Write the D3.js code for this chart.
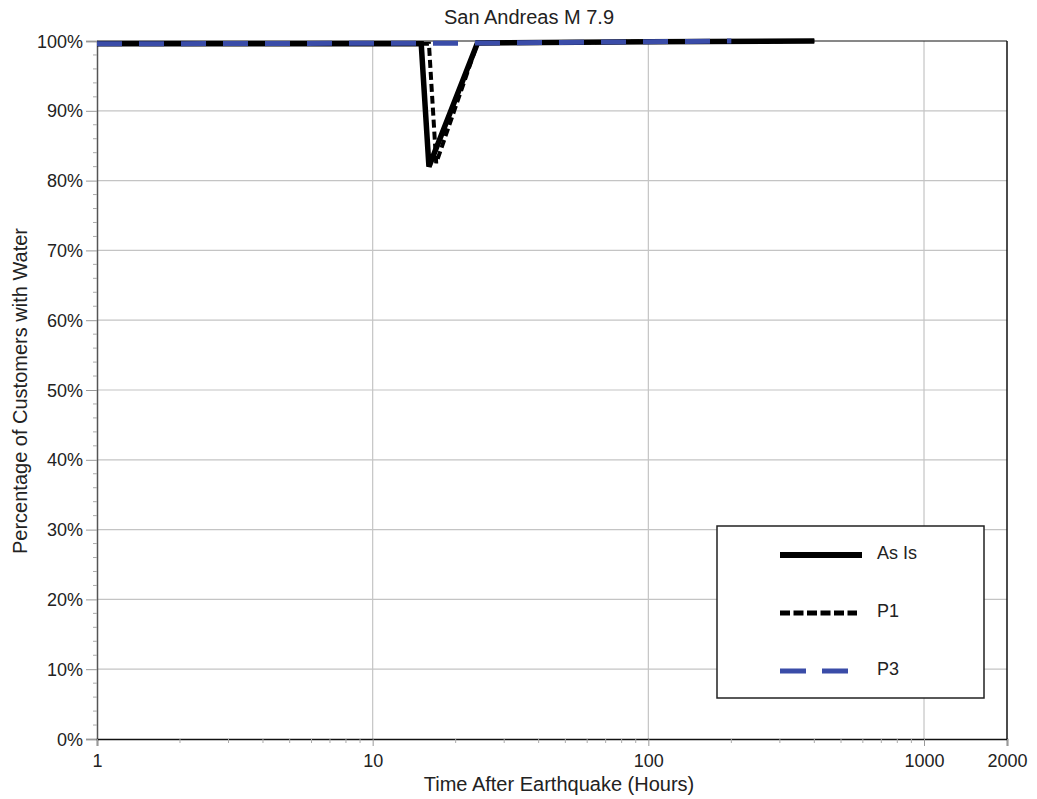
<!DOCTYPE html>
<html>
<head>
<meta charset="utf-8">
<script src="https://cdn.jsdelivr.net/npm/d3@7"></script>
<style>
  html, body { margin: 0; padding: 0; background: #fff; }
  svg { display: block; font-family: "Liberation Sans", Arial, Helvetica, sans-serif; }
</style>
</head>
<body>
<svg id="chart" width="1037" height="799"></svg>
<script>
// Water service restoration after a San Andreas M 7.9 event
const titleText = "San Andreas M 7.9";
const xTitle = "Time After Earthquake (Hours)";
const yTitle = "Percentage of Customers with Water";

const asIsHours = [1, 15, 16, 24, 100, 400];
const asIsPct   = [99.6, 99.6, 82, 99.7, 99.9, 100];

const p1Hours = [1, 16, 17, 24, 100, 400];
const p1Pct   = [99.6, 99.6, 82.5, 99.7, 99.9, 100];

const p3Hours = [1, 24, 100, 200];
const p3Pct   = [99.6, 99.7, 99.9, 100];

const xTickValues = [1, 10, 100, 1000, 2000];
const yTickValues = [0, 10, 20, 30, 40, 50, 60, 70, 80, 90, 100];

const seriesNames = ["As Is", "P1", "P3"];

const FONT = "Liberation Sans, Arial, Helvetica, sans-serif";
const svg = d3.select("#chart");
const plotLeft = 97, plotRight = 1007, plotTop = 41, plotBottom = 739;

const x = d3.scaleLog().domain([1, 2000]).range([plotLeft, plotRight]);
const y = d3.scaleLinear().domain([0, 100]).range([plotBottom, plotTop]);

// grid
const grid = svg.append("g");
grid.selectAll("line.h").data(yTickValues.filter(v => v > 0 && v < 100)).join("line")
  .attr("x1", plotLeft).attr("x2", plotRight)
  .attr("y1", d => y(d)).attr("y2", d => y(d))
  .attr("stroke", "#c4c4c4").attr("stroke-width", 1.2);
grid.selectAll("line.v").data([10, 100, 1000]).join("line")
  .attr("x1", d => x(d)).attr("x2", d => x(d))
  .attr("y1", plotTop).attr("y2", plotBottom)
  .attr("stroke", "#c4c4c4").attr("stroke-width", 1.2);

// frame
svg.append("line").attr("x1", plotLeft).attr("x2", plotRight).attr("y1", plotTop).attr("y2", plotTop)
  .attr("stroke", "#111").attr("stroke-width", 1);
svg.append("line").attr("x1", plotRight).attr("x2", plotRight).attr("y1", plotTop).attr("y2", plotBottom)
  .attr("stroke", "#111").attr("stroke-width", 1.5);

// y axis
const yAxis = d3.axisLeft(y).tickValues(yTickValues).tickFormat(d => d + "%")
  .tickSize(11).tickPadding(3);
const gy = svg.append("g").attr("transform", `translate(${plotLeft},0)`).call(yAxis);
gy.attr("font-family", FONT).attr("font-size", 18);
gy.select(".domain").attr("stroke", "#555").attr("stroke-width", 1.5);
gy.selectAll(".tick line").attr("stroke", "#999");
gy.selectAll(".tick text").attr("fill", "#222").attr("dy", "0.34em");
const yMinor = d3.range(0, 101, 2).filter(v => v % 10 !== 0);
svg.append("g").selectAll("line").data(yMinor).join("line")
  .attr("x1", plotLeft - 4).attr("x2", plotLeft)
  .attr("y1", d => y(d)).attr("y2", d => y(d))
  .attr("stroke", "#aaa");

// x axis
const xAxis = d3.axisBottom(x).tickValues(xTickValues).tickFormat(d3.format("d"))
  .tickSize(7).tickPadding(8);
const gx = svg.append("g").attr("transform", `translate(0,${plotBottom})`).call(xAxis);
gx.attr("font-family", FONT).attr("font-size", 18);
gx.select(".domain").attr("stroke", "#111").attr("stroke-width", 1.5);
gx.selectAll(".tick line").attr("stroke", "#999");
gx.selectAll(".tick text").attr("fill", "#222");
const xMinor = x.ticks().filter(v => !xTickValues.includes(v));
svg.append("g").selectAll("line").data(xMinor).join("line")
  .attr("x1", d => x(d)).attr("x2", d => x(d))
  .attr("y1", plotBottom).attr("y2", plotBottom + 4)
  .attr("stroke", "#aaa");

// titles
svg.append("text").attr("x", 529).attr("y", 24).attr("text-anchor", "middle")
  .attr("font-size", 20).attr("fill", "#222").text(titleText);
svg.append("text").attr("x", 559).attr("y", 791).attr("text-anchor", "middle")
  .attr("font-size", 20).attr("fill", "#222").text(xTitle);
svg.append("text").attr("transform", `translate(27,391) rotate(-90)`)
  .attr("text-anchor", "middle").attr("font-size", 20).attr("fill", "#222").text(yTitle);

// series
const line = d3.line().x(d => x(d[0])).y(d => y(d[1]));
const styles = [
  { color: "#000", width: 5.5, dash: null },
  { color: "#000", width: 4, dash: "8,4" },
  { color: "#3a4ca8", width: 5, dash: "25,17" }
];
const seriesData = [
  d3.zip(asIsHours, asIsPct),
  d3.zip(p1Hours, p1Pct),
  d3.zip(p3Hours, p3Pct)
];
seriesData.forEach((pts, i) => {
  svg.append("path").datum(pts).attr("d", line)
    .attr("fill", "none").attr("stroke", styles[i].color)
    .attr("stroke-width", styles[i].width)
    .attr("stroke-dasharray", styles[i].dash)
    .attr("stroke-linejoin", "miter");
});

// legend
const lg = svg.append("g").attr("transform", "translate(717,526)");
lg.append("rect").attr("width", 267).attr("height", 172)
  .attr("fill", "#fff").attr("stroke", "#222").attr("stroke-width", 1.5);
const rowY = [29, 87, 145];
const legendLen = [82, 77, 68];
const legendDash = [null, "10,3.5", "26,16"];
seriesNames.forEach((name, i) => {
  lg.append("line").attr("x1", 63).attr("x2", 63 + legendLen[i])
    .attr("y1", rowY[i]).attr("y2", rowY[i])
    .attr("stroke", styles[i].color).attr("stroke-width", i === 0 ? 6 : 5)
    .attr("stroke-dasharray", legendDash[i]);
  lg.append("text").attr("x", 160).attr("y", rowY[i] + 4)
    .attr("font-size", 18).attr("fill", "#222").text(name);
});
</script>
</body>
</html>
